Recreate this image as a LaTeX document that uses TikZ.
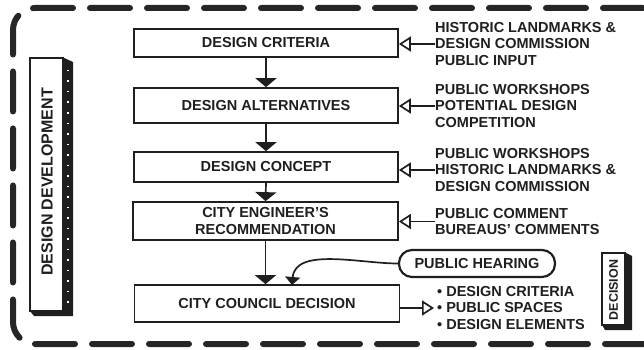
\documentclass[tikz,border=0pt]{standalone}
\usepackage{fontspec}
\setmainfont{Liberation Sans}
\usetikzlibrary{arrows.meta,shapes.geometric}
\begin{document}
\begin{tikzpicture}[x=1pt,y=-1pt,
  ink/.style={draw=black!88, line width=1.7pt},
  lettering/.style={font=\bfseries\fontsize{14.5}{16.5}\selectfont, text=black!88},
  stage/.style={ink, fill=white, minimum width=264pt, inner sep=0pt, lettering, align=center},
  feed/.style={lettering, align=left, anchor=west, inner sep=0pt},
  downarrow/.style={ink, -{Triangle[width=21pt,length=9pt]}},
  openarrow/.style={ink, -{Triangle[open,width=15pt,length=12pt]}},
  hearingarrow/.style={ink, -{Triangle[width=15pt,length=8pt]}},
  frame/.style={draw=black!85, line width=6pt, dash pattern=on 40pt off 17pt, line cap=round, rounded corners=22pt},
]
\useasboundingbox (0,0) rectangle (644,350);
\clip (0,0) rectangle (644,350);

% dashed frame
\draw[frame] (700,8) -- (13,8) -- (13,344) -- (700,344);

% design development bar
\fill[black!88] (62,57) -- (73,62) -- (73,316) -- (34,316) -- (30,311) -- (62,311) -- cycle;
\draw[white, line width=1.4pt, dash pattern=on 1.5pt off 9pt] (68,70) -- (68,308);
\draw[ink, fill=white] (30,58) rectangle (63,311);
\node[lettering, font=\bfseries\fontsize{16}{18}\selectfont, rotate=90, inner sep=0pt] (dd) at (47,182) {DESIGN DEVELOPMENT};

% decision bar
\fill[black!88] (624,252) -- (632,256) -- (632,330) -- (605,330) -- (602,325) -- (624,325) -- cycle;
\draw[ink, fill=white] (602,253) rectangle (625,325);
\node[lettering, font=\bfseries\fontsize{12.5}{14}\selectfont, rotate=90, inner sep=0pt] (dec) at (613.5,290) {DECISION};

% stages
\node[stage, minimum height=28pt] (crit) at (266,43) {DESIGN CRITERIA};
\node[stage, minimum height=35pt] (alt) at (266,105.5) {DESIGN ALTERNATIVES};
\node[stage, minimum height=30pt] (conc) at (266,167) {DESIGN CONCEPT};
\node[stage, minimum height=38pt, minimum width=265pt] (eng) at (265.5,221) {CITY ENGINEER'S\\RECOMMENDATION};
\node[stage, minimum height=37pt, minimum width=265pt] (council) at (267,303.5) {CITY COUNCIL DECISION};

\draw[downarrow] (crit.south) -- (alt.north);
\draw[downarrow] (alt.south) -- (conc.north);
\draw[downarrow] (conc.south) -- (eng.north);
\draw[downarrow] (eng.south) -- (eng.south |- council.north);

% inputs
\node[feed] (f1) at (435,44) {HISTORIC LANDMARKS \&\\DESIGN COMMISSION\\PUBLIC INPUT};
\node[feed] (f2) at (435,106) {PUBLIC WORKSHOPS\\POTENTIAL DESIGN\\COMPETITION};
\node[feed] (f3) at (435,170) {PUBLIC WORKSHOPS\\HISTORIC LANDMARKS \&\\DESIGN COMMISSION};
\node[feed] (f4) at (435,221.5) {PUBLIC COMMENT\\BUREAUS' COMMENTS};

\draw[openarrow] (f1.west) -- (f1.west -| crit.east);
\draw[openarrow] (f2.west) -- (f2.west -| alt.east);
\draw[openarrow] (f3.west) -- (f3.west -| conc.east);
\draw[openarrow] (f4.west) -- (f4.west -| eng.east);

% public hearing
\node[ink, line width=2.2pt, rounded corners=13pt, minimum width=156pt, minimum height=27pt, inner sep=0pt, lettering] (hear) at (477,263.5) {PUBLIC HEARING};
\coordinate (hin) at (292,285);
\draw[hearingarrow] (hear.west) to[out=180,in=85,looseness=0.9] (hin);

% outputs
\node[feed] (outs) at (437,308) {\textbullet\ DESIGN CRITERIA\\\textbullet\ PUBLIC SPACES\\\textbullet\ DESIGN ELEMENTS};
\draw[openarrow, shorten >=3pt] (outs.west -| council.east) -- (outs.west);
\end{tikzpicture}
\end{document}
